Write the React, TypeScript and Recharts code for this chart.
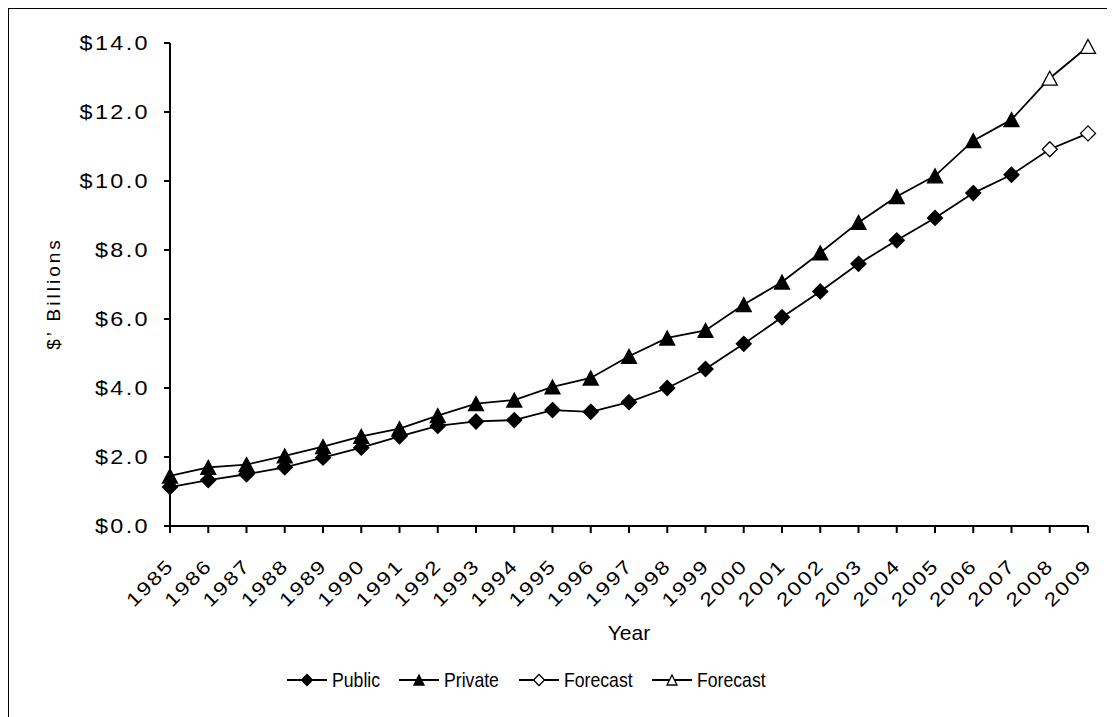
import React from "react";
import { LineChart, Line, XAxis, YAxis, Legend, Label } from "recharts";

const years = ["1985","1986","1987","1988","1989","1990","1991","1992","1993","1994","1995","1996","1997","1998","1999","2000","2001","2002","2003","2004","2005","2006","2007","2008","2009"];
// 1985-2007
const publicVals = [1.13,1.33,1.5,1.7,1.98,2.27,2.6,2.9,3.03,3.07,3.36,3.31,3.59,4.0,4.55,5.28,6.05,6.8,7.6,8.28,8.93,9.65,10.18];
const privateVals = [1.45,1.7,1.78,2.03,2.3,2.6,2.82,3.2,3.55,3.65,4.03,4.29,4.92,5.45,5.67,6.42,7.07,7.92,8.8,9.55,10.15,11.17,11.78];
// 2007-2009
const forecastYears = ["2007","2008","2009"];
const publicForecast = [10.18,10.92,11.38];
const privateForecast = [11.78,12.98,13.9];
const yTicks = [0,2,4,6,8,10,12,14];

const data = years.map((y, i) => {
  const fi = forecastYears.indexOf(y);
  return {
    year: y,
    pub: i < publicVals.length ? publicVals[i] : null,
    priv: i < privateVals.length ? privateVals[i] : null,
    pubF: fi >= 0 ? publicForecast[fi] : null,
    privF: fi >= 0 ? privateForecast[fi] : null,
  };
});

const FONT = "'Liberation Sans', Arial, sans-serif";

const diamond = (cx: number, cy: number, r: number, fill: string, key?: any) => (
  <path key={key} d={`M${cx},${cy - r}L${cx + r},${cy}L${cx},${cy + r}L${cx - r},${cy}Z`} fill={fill} stroke="#000" strokeWidth={1.3} />
);
const triangle = (cx: number, cy: number, w: number, h: number, fill: string, key?: any) => (
  <path key={key} d={`M${cx},${cy - h / 2}L${cx + w / 2},${cy + h / 2}L${cx - w / 2},${cy + h / 2}Z`} fill={fill} stroke="#000" strokeWidth={1.3} />
);

const makeDot = (kind: "d" | "t", fill: string, skipYear?: string) => (props: any) => {
  const { cx, cy, payload, index } = props;
  const k = `${kind}-${fill}-${index}`;
  if (cx == null || cy == null || (skipYear && payload && payload.year === skipYear)) return <g key={k} />;
  return kind === "d" ? diamond(cx, cy, 7.5, fill, k) : triangle(cx, cy, 15, 14, fill, k);
};

const XTick = (props: any) => {
  const { x, y, payload } = props;
  return (
    <g transform={`translate(${x + 5},${y + 32})`}>
      <text transform="rotate(-45) scale(1.2,1)" textAnchor="end" fontSize={19} fontFamily={FONT} fill="#000" style={{ letterSpacing: 1.5 }}>
        {payload.value}
      </text>
    </g>
  );
};

const YTick = (props: any) => {
  const { x, y, payload } = props;
  return (
    <g transform={`translate(${x - 12},${y}) scale(1.2,1)`}>
      <text x={0} y={0} dy="0.36em" textAnchor="end" fontSize={19.5} fontFamily={FONT} fill="#000" style={{ letterSpacing: 2 }}>
        {`$${Number(payload.value).toFixed(1)}`}
      </text>
    </g>
  );
};

const legendItems = [
  { name: "Public", kind: "d", fill: "#000", w: 112 },
  { name: "Private", kind: "t", fill: "#000", w: 120 },
  { name: "Forecast", kind: "d", fill: "#fff", w: 133 },
  { name: "Forecast", kind: "t", fill: "#fff", w: 120 },
];

const LegendContent = () => (
  <div style={{ display: "flex", alignItems: "center" }}>
    {legendItems.map((it, i) => (
      <div key={i} style={{ display: "flex", alignItems: "center", width: it.w }}>
        <svg width={40} height={24} style={{ display: "block", flex: "none" }}>
          <line x1={0} y1={12} x2={40} y2={12} stroke="#000" strokeWidth={1.8} />
          {it.kind === "d" ? diamond(20, 12, 5.5, it.fill) : triangle(20, 12, 10, 10, it.fill)}
        </svg>
        <span style={{ marginLeft: 5, display: "inline-block", transform: "scaleX(0.84)", transformOrigin: "left center", whiteSpace: "nowrap", fontSize: 21, fontFamily: FONT, color: "#000", lineHeight: "24px" }}>
          {it.name}
        </span>
      </div>
    ))}
  </div>
);

export default function App() {
  return (
    <div style={{ position: "relative", border: "2px solid #000", width: 1110, height: 712, marginTop: -1, marginLeft: -1, background: "#fff" }}>
      <LineChart width={1110} height={705} data={data} margin={{ top: 34, right: 31, left: 0, bottom: 0 }}>
        <XAxis
          dataKey="year"
          interval={0}
          height={188}
          tick={<XTick />}
          tickSize={7}
          axisLine={{ stroke: "#000", strokeWidth: 2 }}
          tickLine={{ stroke: "#000", strokeWidth: 2 }}
        >
          <Label
            content={(p: any) => {
              const vb = p.viewBox || {};
              return (
                <text x={vb.x + vb.width / 2} y={vb.y + 114} textAnchor="middle" fontSize={21} fontFamily={FONT} fill="#000">
                  Year
                </text>
              );
            }}
          />
        </XAxis>
        <YAxis
          width={161}
          domain={[0, 14]}
          ticks={yTicks}
          interval={0}
          tick={<YTick />}
          tickSize={6}
          axisLine={{ stroke: "#000", strokeWidth: 2 }}
          tickLine={{ stroke: "#000", strokeWidth: 2 }}
        >
          <Label
            content={(p: any) => {
              const vb = p.viewBox || {};
              const cx = vb.x + 44;
              const cy = vb.y + vb.height / 2 + 9;
              return (
                <text x={cx} y={cy} transform={`rotate(-90 ${cx} ${cy})`} textAnchor="middle" dominantBaseline="central" fontSize={19} fontFamily={FONT} fill="#000" style={{ letterSpacing: 3 }}>
                  $’ Billions
                </text>
              );
            }}
          />
        </YAxis>
        <Legend
          layout="horizontal"
          verticalAlign="middle"
          align="center"
          wrapperStyle={{ top: 659, left: 278, width: 600, height: 24 }}
          content={<LegendContent />}
        />
        <Line type="linear" dataKey="pubF" name="Forecast" stroke="#000" strokeWidth={1.8} dot={makeDot("d", "#fff", "2007")} activeDot={false} legendType="none" isAnimationActive={false} connectNulls={false} />
        <Line type="linear" dataKey="privF" name="Forecast" stroke="#000" strokeWidth={1.8} dot={makeDot("t", "#fff", "2007")} activeDot={false} legendType="none" isAnimationActive={false} connectNulls={false} />
        <Line type="linear" dataKey="pub" name="Public" stroke="#000" strokeWidth={1.8} dot={makeDot("d", "#000")} activeDot={false} isAnimationActive={false} connectNulls={false} />
        <Line type="linear" dataKey="priv" name="Private" stroke="#000" strokeWidth={1.8} dot={makeDot("t", "#000")} activeDot={false} isAnimationActive={false} connectNulls={false} />
      </LineChart>
    </div>
  );
}
